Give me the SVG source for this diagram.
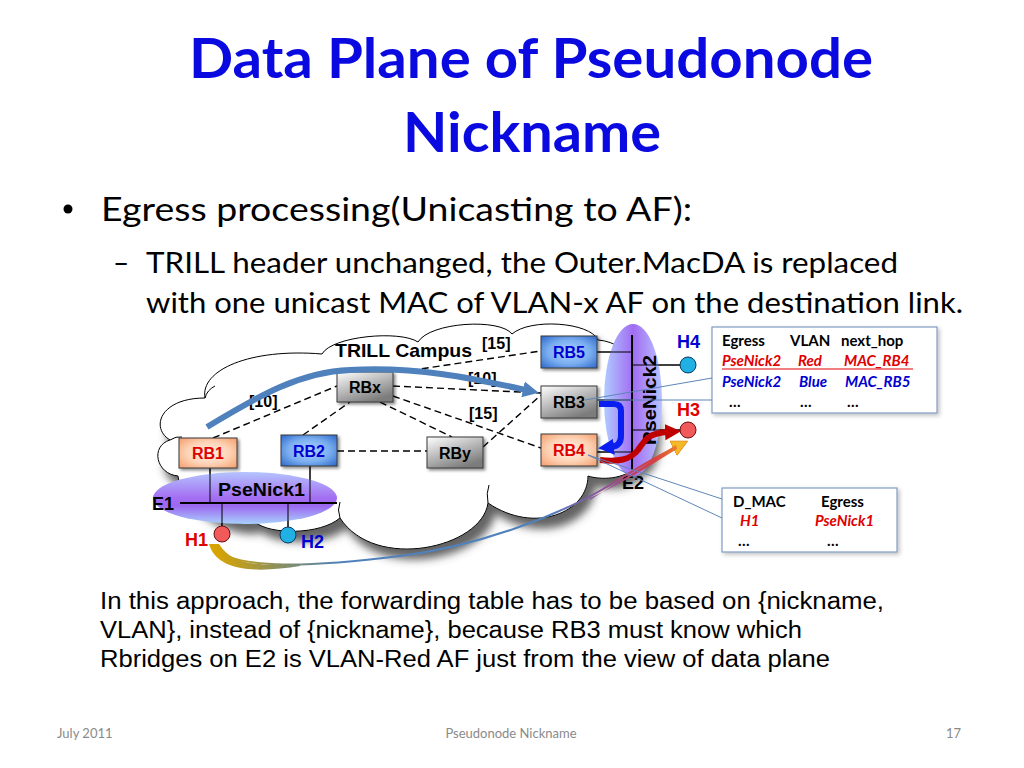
<svg xmlns="http://www.w3.org/2000/svg" width="1024" height="768" viewBox="0 0 1024 768">
<style>
.title{font-family:Lato,"Open Sans","Liberation Sans",sans-serif;font-weight:700;font-size:56px;fill:#0a0ae0}
.body{font-family:Lato,"Open Sans","Liberation Sans",sans-serif;fill:#000}
.arial{font-family:"Liberation Sans",Arial,sans-serif}
.bold{font-weight:700}
.node text{font-family:"Liberation Sans",Arial,sans-serif;font-weight:700;font-size:16px;text-anchor:middle}
.box{stroke:#3a3a3a;stroke-width:1}
.dash{stroke:#000;stroke-width:1.4;stroke-dasharray:7,4;fill:none}
.wire{stroke:#000;stroke-width:1;fill:none}
.wireB{stroke:#000;stroke-width:2;fill:none}
.callout{fill:#fff;stroke:#7f9cc4;stroke-width:1.2}
.cline{stroke:#5f86b8;stroke-width:1;fill:none}
.tbl{font-family:Lato,"Open Sans","Liberation Sans",sans-serif;font-weight:700;font-size:15px}
.it{font-style:italic}
.red{fill:#e00000}
.blue{fill:#0000d0}
.foot{font-family:Lato,"Open Sans","Liberation Sans",sans-serif;font-size:13px;fill:#8a8a8a}
.cost{font-family:"Liberation Sans",Arial,sans-serif;font-weight:700;font-size:16px}
.lbl{font-family:"Liberation Sans",Arial,sans-serif;font-weight:700;font-size:18px}
</style>
<defs>
<radialGradient id="gPeach" cx="0.5" cy="0.5" r="0.75">
<stop offset="0" stop-color="#fff2e8"/><stop offset="0.5" stop-color="#fdd2b4"/><stop offset="1" stop-color="#f39460"/>
</radialGradient>
<radialGradient id="gBlue" cx="0.5" cy="0.5" r="0.75">
<stop offset="0" stop-color="#b0d4ff"/><stop offset="0.5" stop-color="#7aaef0"/><stop offset="1" stop-color="#1f5cc4"/>
</radialGradient>
<linearGradient id="gGrey" x1="0" y1="0" x2="0.6" y2="1">
<stop offset="0" stop-color="#ffffff"/><stop offset="1" stop-color="#7c7c7c"/>
</linearGradient>
<linearGradient id="gE1" x1="0" y1="0" x2="0" y2="1">
<stop offset="0" stop-color="#b4c4ff"/><stop offset="0.5" stop-color="#a46ef2"/><stop offset="0.65" stop-color="#9c68f0"/><stop offset="1" stop-color="#a8d0fc"/>
</linearGradient>
<linearGradient id="gE2" x1="0" y1="0" x2="1" y2="0">
<stop offset="0" stop-color="#b0ccff"/><stop offset="0.5" stop-color="#a26cf2"/><stop offset="1" stop-color="#b8c4ff"/>
</linearGradient>
<linearGradient id="gRib" gradientUnits="userSpaceOnUse" x1="215" y1="550" x2="690" y2="440">
<stop offset="0" stop-color="#d8a400"/><stop offset="0.12" stop-color="#8a9060"/><stop offset="0.25" stop-color="#4f81bd"/><stop offset="0.68" stop-color="#4f81bd"/><stop offset="0.82" stop-color="#9a4a90"/><stop offset="0.92" stop-color="#d84040"/><stop offset="1" stop-color="#f5a020"/>
</linearGradient>
<filter id="fCloud" x="-10%" y="-10%" width="130%" height="140%">
<feDropShadow dx="7" dy="10" stdDeviation="4" flood-color="#4a4a4a" flood-opacity="0.85"/>
</filter>
<filter id="fBox" x="-20%" y="-20%" width="150%" height="160%">
<feDropShadow dx="2" dy="2" stdDeviation="1.5" flood-color="#000" flood-opacity="0.45"/>
</filter>
<filter id="fCall" x="-10%" y="-10%" width="130%" height="130%">
<feDropShadow dx="2" dy="2" stdDeviation="2" flood-color="#000" flood-opacity="0.25"/>
</filter>
<marker id="ahSteel" markerUnits="userSpaceOnUse" markerWidth="18" markerHeight="18" refX="3" refY="9" orient="auto"><path d="M0,1 L16,9 L0,17 z" fill="#4f81bd"/></marker>
<marker id="ahBlue" markerUnits="userSpaceOnUse" markerWidth="18" markerHeight="18" refX="3" refY="9" orient="auto"><path d="M0,1 L16,9 L0,17 z" fill="#0a1ef0"/></marker>
<marker id="ahRed" markerUnits="userSpaceOnUse" markerWidth="18" markerHeight="18" refX="3" refY="9" orient="auto"><path d="M0,1 L16,9 L0,17 z" fill="#c00000"/></marker>
<marker id="ahGold" markerUnits="userSpaceOnUse" markerWidth="18" markerHeight="18" refX="3" refY="9" orient="auto"><path d="M0,1 L16,9 L0,17 z" fill="#f4b828" stroke="#e08a10" stroke-width="0.8"/></marker>
</defs>

<rect width="1024" height="768" fill="#fff"/>

<!-- Title and text -->
<text class="title" x="531" y="78" text-anchor="middle" textLength="684" lengthAdjust="spacingAndGlyphs">Data Plane of Pseudonode</text>
<text class="title" x="532" y="152" text-anchor="middle" textLength="258" lengthAdjust="spacingAndGlyphs">Nickname</text>
<circle cx="68" cy="209" r="4.5" fill="#000"/>
<text class="body" x="101" y="221" font-size="33" textLength="591" lengthAdjust="spacingAndGlyphs">Egress processing(Unicasting to AF):</text>
<text class="body" x="113" y="273" font-size="28">–</text>
<text class="body" x="146" y="273" font-size="28" textLength="752" lengthAdjust="spacingAndGlyphs">TRILL header unchanged, the Outer.MacDA is replaced</text>
<text class="body" x="146" y="313" font-size="28" textLength="817" lengthAdjust="spacingAndGlyphs">with one unicast MAC of VLAN-x AF on the destination link.</text>

<!-- Cloud -->
<g id="cloud">
<path filter="url(#fCloud)" fill="#fff" stroke="#000" stroke-width="1" d="M178,476 C156,474 150,446 170,440 C150,428 160,398 205,398 C200,370 250,348 322,354 C332,336 400,330 418,342 C430,322 500,318 512,334 C530,318 590,322 598,340 C660,345 665,460 636,466 C625,480 600,480 588,476 C588,512 535,535 488,503 C482,548 375,572 340,518 C320,535 270,535 255,522 C230,530 180,505 178,476 Z"/>
<path class="wire" d="M205,398 q2,-8 10,-12 M170,440 q6,-4 12,-3 M488,503 q-2,-10 1,-18 M340,518 q-3,-8 0,-16"/>
<text class="arial bold" x="335" y="357" font-size="19" textLength="137" lengthAdjust="spacingAndGlyphs">TRILL Campus</text>
</g>

<!-- Connectors -->
<g id="connectors">
<path class="dash" d="M213,438 L337,386"/>
<path class="dash" d="M303,435 L350,402"/>
<path class="dash" d="M337,451 L427,451"/>
<path class="dash" d="M393,386 L541,393"/>
<path class="dash" d="M380,402 L452,437"/>
<path class="dash" d="M393,396 L541,448"/>
<path class="dash" d="M400,372 L541,351"/>
<path class="dash" d="M483,447 L541,395"/>
<path class="wire" d="M597,352 H632 M597,400 H632 M597,452 H632 M632,365 H681 M632,430 H681"/>
<path class="wire" d="M210,467 V503 M310,466 V503 M222,503 V526 M288,503 V527"/>
</g>

<!-- Cost labels -->
<text class="cost" x="482" y="349">[15]</text>
<text class="cost" x="468" y="384">[10]</text>
<text class="cost" x="469" y="419">[15]</text>
<text class="cost" x="249" y="407">[10]</text>

<!-- Pseudonode 1 -->
<g id="psenick1">
<ellipse cx="245" cy="498" rx="92" ry="26" fill="url(#gE1)"/>
<path class="wireB" d="M180,503 H337"/>
<path class="wire" d="M210,467 V503 M310,466 V503 M222,503 V526 M288,503 V527"/>
<text class="lbl" x="218" y="496" textLength="87" lengthAdjust="spacingAndGlyphs">PseNick1</text>
<text class="lbl" x="152" y="510" font-size="17">E1</text>
</g>

<!-- Pseudonode 2 -->
<g id="psenick2">
<ellipse cx="633" cy="400" rx="29" ry="76" fill="url(#gE2)"/>
<path class="wireB" d="M632,335 V470"/>
<path class="wire" d="M597,352 H632 M597,400 H632 M597,452 H632 M632,365 H681 M632,430 H681"/>
<text class="lbl" transform="translate(656,400) rotate(-90)" text-anchor="middle" font-size="19" textLength="90" lengthAdjust="spacingAndGlyphs">PseNick2</text>
<text class="lbl" x="622" y="489" font-size="14">E2</text>
</g>

<!-- RBridge nodes -->
<g id="RB1" class="node"><rect class="box" x="179" y="438" width="58" height="30" fill="url(#gPeach)" filter="url(#fBox)"/><text x="208" y="459" class="red">RB1</text></g>
<g id="RB2" class="node"><rect class="box" x="281" y="435" width="56" height="31" fill="url(#gBlue)" filter="url(#fBox)"/><text x="309" y="457" class="blue">RB2</text></g>
<g id="RBx" class="node"><rect class="box" x="337" y="372" width="56" height="30" fill="url(#gGrey)" filter="url(#fBox)"/><text x="365" y="393">RBx</text></g>
<g id="RBy" class="node"><rect class="box" x="427" y="437" width="56" height="31" fill="url(#gGrey)" filter="url(#fBox)"/><text x="455" y="459">RBy</text></g>
<g id="RB5" class="node"><rect class="box" x="541" y="336" width="56" height="32" fill="url(#gBlue)" filter="url(#fBox)"/><text x="569" y="358" class="blue">RB5</text></g>
<g id="RB3" class="node"><rect class="box" x="541" y="386" width="56" height="32" fill="url(#gGrey)" filter="url(#fBox)"/><text x="569" y="408">RB3</text></g>
<g id="RB4" class="node"><rect class="box" x="541" y="434" width="56" height="32" fill="url(#gPeach)" filter="url(#fBox)"/><text x="569" y="456" class="red">RB4</text></g>

<!-- Hosts -->
<g id="H1"><circle cx="222" cy="534" r="8" fill="#f05a5a" stroke="#6a1010" stroke-width="1"/><text class="lbl red" x="185" y="546" font-size="17">H1</text></g>
<g id="H2"><circle cx="288" cy="535" r="8" fill="#20b0e4" stroke="#0a3a60" stroke-width="1"/><text class="lbl blue" x="301" y="548" font-size="17">H2</text></g>
<g id="H4"><circle cx="688" cy="365" r="8" fill="#20b0e4" stroke="#0a3a60" stroke-width="1"/><text class="lbl blue" x="677" y="348">H4</text></g>
<g id="H3"><circle cx="688" cy="430" r="8" fill="#f05a5a" stroke="#6a1010" stroke-width="1"/><text class="lbl red" x="677" y="416">H3</text></g>

<!-- Flow arrows -->
<g id="flows" fill="none">
<path d="M207,427 C260,395 300,372 350,370 C420,366 480,380 526,390" stroke="#4f81bd" stroke-width="6" marker-end="url(#ahSteel)"/>
<path d="M599,404 H614 Q621,404 621,411 V436 Q621,446 611,447" stroke="#0a1ef0" stroke-width="6" marker-end="url(#ahBlue)"/>
<path d="M600,460 C618,462 630,460 638,450 C646,438 650,433 668,432" stroke="#c00000" stroke-width="6" marker-end="url(#ahRed)"/>
<path d="M214,546 C232,572 320,566 400,556 C480,546 560,515 610,485 C640,466 660,455 676,447" stroke="url(#gRib)" stroke-width="2" marker-end="url(#ahGold)"/>
<path d="M209,544 C218,574 262,572 300,566 L300,564 C262,566 232,566 219,544 Z" fill="url(#gRib)"/>
<path d="M590,500 C625,478 650,462 676,445 L677,449 C652,464 625,482 590,498 Z" fill="url(#gRib)"/>
</g>

<!-- Callout tables -->
<g id="table1">
<rect class="callout" x="712" y="327" width="225" height="86" filter="url(#fCall)"/>
<path class="cline" d="M712,378 L585,400 M597,400 H712"/>
<text class="tbl" font-size="14"><tspan x="722" y="346">Egress</tspan><tspan x="790" y="346">VLAN</tspan><tspan x="841" y="346">next_hop</tspan></text>
<text class="tbl it red" font-size="14"><tspan x="722" y="366">PseNick2</tspan><tspan x="798" y="366">Red</tspan><tspan x="844" y="366">MAC_RB4</tspan></text>
<path d="M722,369 H913" stroke="#e00000" stroke-width="1"/>
<text class="tbl it blue" font-size="14"><tspan x="722" y="387">PseNick2</tspan><tspan x="799" y="387">Blue</tspan><tspan x="845" y="387">MAC_RB5</tspan></text>
<text class="tbl" font-size="12"><tspan x="729" y="407">…</tspan><tspan x="800" y="407">…</tspan><tspan x="847" y="407">…</tspan></text>
</g>
<g id="table2">
<rect class="callout" x="722" y="488" width="175" height="64" filter="url(#fCall)"/>
<path class="cline" d="M588,455 L722,499 M588,455 L722,518"/>
<text class="tbl" font-size="14"><tspan x="733" y="507">D_MAC</tspan><tspan x="821" y="507">Egress</tspan></text>
<text class="tbl it red" font-size="14"><tspan x="740" y="526">H1</tspan><tspan x="815" y="526">PseNick1</tspan></text>
<text class="tbl" font-size="12"><tspan x="738" y="546">…</tspan><tspan x="827" y="546">…</tspan></text>
</g>

<!-- Paragraph -->
<text class="arial" font-size="23"><tspan x="100" y="609" textLength="784" lengthAdjust="spacingAndGlyphs">In this approach, the forwarding table has to be based on {nickname,</tspan></text>
<text class="arial" font-size="23"><tspan x="100" y="638" textLength="702" lengthAdjust="spacingAndGlyphs">VLAN}, instead of {nickname}, because RB3 must know which</tspan></text>
<text class="arial" font-size="23"><tspan x="100" y="667" textLength="730" lengthAdjust="spacingAndGlyphs">Rbridges on E2 is VLAN-Red AF just from the view of data plane</tspan></text>

<!-- Footer -->
<text class="foot" x="57" y="738">July 2011</text>
<text class="foot" x="511" y="738" text-anchor="middle">Pseudonode Nickname</text>
<text class="foot" x="946" y="738">17</text>
</svg>
